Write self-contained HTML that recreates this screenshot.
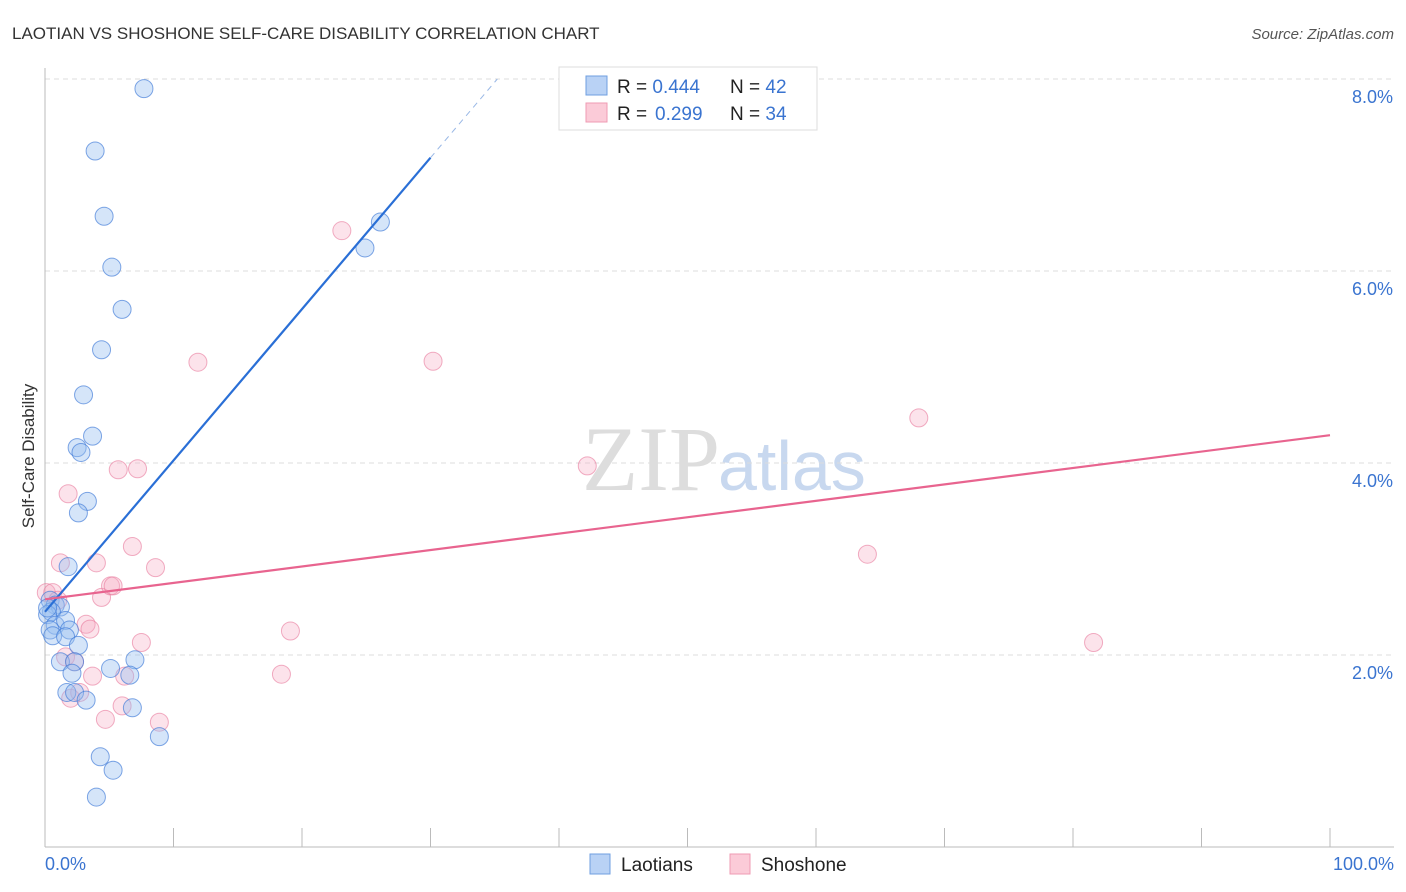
<!DOCTYPE html>
<html><head><meta charset="utf-8"><style>
body{margin:0;background:#fff;font-family:"Liberation Sans",sans-serif;}
svg{display:block}
</style></head><body>
<svg id="chart" width="1406" height="892" xmlns="http://www.w3.org/2000/svg">
<text x="12" y="39" font-size="17" fill="#333">LAOTIAN VS SHOSHONE SELF-CARE DISABILITY CORRELATION CHART</text>
<text x="1394" y="39" font-size="15" fill="#555" text-anchor="end" font-style="italic">Source: ZipAtlas.com</text>
<text x="720" y="490" font-size="92" fill="#ddd" text-anchor="end" font-family="Liberation Serif,serif">ZIP</text>
<text x="718" y="490" font-size="70" fill="#c8d8ef">atlas</text>
<g id="grid"></g>
<line x1="45" y1="68" x2="45" y2="847" stroke="#bbb"/>
<line x1="45" y1="847" x2="1394" y2="847" stroke="#bbb"/>
<text transform="translate(34,456) rotate(-90)" font-size="17" fill="#333" text-anchor="middle">Self-Care Disability</text>
<text x="45" y="870" font-size="18" fill="#3a74d0">0.0%</text>
<text x="1394" y="870" font-size="18" fill="#3a74d0" text-anchor="end">100.0%</text>
<g id="marks"></g>
<g>
<rect x="559" y="67" width="258" height="63" fill="#fff" stroke="#ddd"/>
<rect x="586" y="76" width="21" height="19" fill="#b9d2f5" stroke="#6f9fe0"/>
<rect x="586" y="103" width="21" height="19" fill="#fbcbd8" stroke="#ef9bb3"/>
<text x="617" y="93" font-size="19" fill="#222">R = <tspan fill="#3a74d0">0.444</tspan><tspan x="730">N = </tspan><tspan fill="#3a74d0">42</tspan></text>
<text x="617" y="120" font-size="19" fill="#222">R = <tspan fill="#3a74d0" x="655">0.299</tspan><tspan x="730">N = </tspan><tspan fill="#3a74d0">34</tspan></text>
</g>
<g>
<rect x="590" y="854" width="20" height="20" fill="#b9d2f5" stroke="#6f9fe0"/>
<text x="621" y="871" font-size="19" fill="#222">Laotians</text>
<rect x="730" y="854" width="20" height="20" fill="#fbcbd8" stroke="#ef9bb3"/>
<text x="761" y="871" font-size="19" fill="#222">Shoshone</text>
</g>
</svg>
<script>
const yTicks=[2,4,6,8];
const yTickLabels=["2.0%","4.0%","6.0%","8.0%"];
const xTicks=[10,20,30,40,50,60,70,80,90,100];
const laotianX=[7.7,3.9,4.6,5.2,6.0,4.4,3.0,3.7,2.5,2.8,3.3,2.6,1.8,0.4,0.8,1.2,0.5,0.2,0.8,0.4,1.6,1.9,0.6,1.6,2.6,1.2,2.3,2.1,5.1,7.0,6.6,1.7,2.3,3.2,6.8,4.3,5.3,8.9,4.0,26.1,24.9,0.2];
const laotianY=[7.9,7.25,6.57,6.04,5.6,5.18,4.71,4.28,4.16,4.11,3.6,3.48,2.92,2.57,2.52,2.5,2.45,2.42,2.31,2.26,2.36,2.26,2.2,2.19,2.1,1.93,1.93,1.81,1.86,1.95,1.79,1.61,1.61,1.53,1.45,0.94,0.80,1.15,0.52,6.51,6.24,2.49];
const shoshoneX=[0.1,0.6,1.0,1.2,1.8,5.7,7.2,11.9,23.1,30.2,42.2,68.0,64.0,81.6,6.8,4.0,8.6,4.4,5.1,5.3,3.2,3.5,7.5,19.1,1.6,2.3,18.4,3.7,6.2,6.0,4.7,8.9,2.0,2.7];
const shoshoneY=[2.65,2.65,2.57,2.96,3.68,3.93,3.94,5.05,6.42,5.06,3.97,4.47,3.05,2.13,3.13,2.96,2.91,2.6,2.72,2.72,2.32,2.27,2.13,2.25,1.98,1.93,1.80,1.78,1.78,1.47,1.33,1.30,1.55,1.61];
const blueTrend=[[0,2.45],[30,7.18]];
const pinkTrend=[[0,2.58],[100,4.29]];
const sx=v=>45+v*12.85, sy=v=>847-v*96;
const NS="http://www.w3.org/2000/svg";
const grid=document.getElementById('grid'), marks=document.getElementById('marks');
function mk(tag,attrs,parent){const e=document.createElementNS(NS,tag);for(const k in attrs)e.setAttribute(k,attrs[k]);parent.appendChild(e);return e;}
yTicks.forEach((t,i)=>{
  const l=mk('line',{x1:45,x2:1394,y1:sy(t),y2:sy(t),stroke:'#ddd','stroke-dasharray':'5,4'},grid);
  
  
  const tx=mk('text',{x:1393,y:sy(t)+24,'font-size':18,fill:'#3a74d0','text-anchor':'end'},grid);
  tx.textContent=yTickLabels[i];
  
  
});
xTicks.forEach(t=>{
  const l=mk('line',{x1:sx(t),x2:sx(t),y1:828,y2:847,stroke:'#bbb'},grid);
  
  
});
shoshoneX.forEach((x,i)=>{
  const c=mk('circle',{cx:sx(x),cy:sy(shoshoneY[i]),r:9,fill:'rgba(246,170,195,0.33)',stroke:'rgba(232,120,155,0.6)','stroke-width':1},marks);
  
  
});
laotianX.forEach((x,i)=>{
  const c=mk('circle',{cx:sx(x),cy:sy(laotianY[i]),r:9,fill:'rgba(150,190,240,0.4)',stroke:'rgba(60,120,215,0.65)','stroke-width':1},marks);
  
  
});
const slope=(blueTrend[1][1]-blueTrend[0][1])/(blueTrend[1][0]-blueTrend[0][0]);
const xEnd=(8.0-blueTrend[0][1])/slope;
const bl=mk('line',{x1:sx(blueTrend[0][0]),y1:sy(blueTrend[0][1]),x2:sx(blueTrend[1][0]),y2:sy(blueTrend[1][1]),stroke:'#2a6fd6','stroke-width':2.2},marks);


const bd=mk('line',{x1:sx(blueTrend[1][0]),y1:sy(blueTrend[1][1]),x2:sx(xEnd),y2:sy(8.0),stroke:'#9ab8e6','stroke-width':1,'stroke-dasharray':'6,5'},marks);


const pl=mk('line',{x1:sx(pinkTrend[0][0]),y1:sy(pinkTrend[0][1]),x2:sx(pinkTrend[1][0]),y2:sy(pinkTrend[1][1]),stroke:'#e8648f','stroke-width':2.2},marks);


</script>
</body></html>
